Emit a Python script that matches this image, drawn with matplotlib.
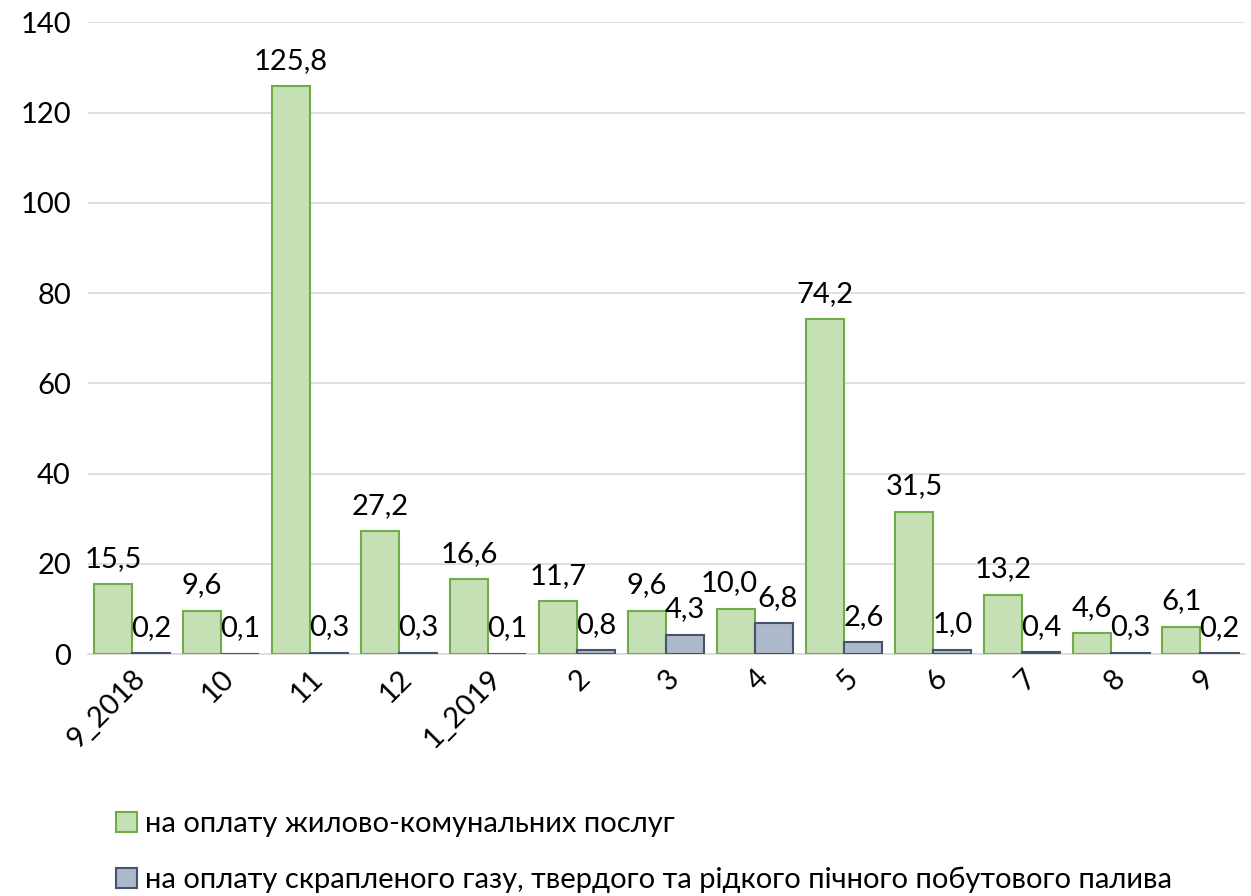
import numpy as np
import matplotlib.pyplot as plt

# Дані
months = ['9_2018', '10', '11', '12', '1_2019', '2', '3', '4', '5', '6', '7', '8', '9']
housing = [15.5, 9.6, 125.8, 27.2, 16.6, 11.7, 9.6, 10.0, 74.2, 31.5, 13.2, 4.6, 6.1]
fuel = [0.2, 0.1, 0.3, 0.3, 0.1, 0.8, 4.3, 6.8, 2.6, 1.0, 0.4, 0.3, 0.2]

label_housing = 'на оплату жилово-комунальних послуг'
label_fuel = 'на оплату скрапленого газу, твердого та рідкого пічного побутового палива'

plt.rcParams['font.family'] = ['Lato', 'DejaVu Sans']
FS = 21

fig = plt.figure(figsize=(12.51, 8.96), dpi=100)
ax = fig.add_axes([0.070, 0.270, 0.925, 0.705])

x = np.arange(len(months))
w = 0.43
b1 = ax.bar(x - w / 2, housing, w, color='#c5e0b4', edgecolor='#70ad47', linewidth=1.5,
            label=label_housing, zorder=3)
b2 = ax.bar(x + w / 2, fuel, w, color='#adb9ca', edgecolor='#44546a', linewidth=1.5,
            label=label_fuel, zorder=3)

fmt = lambda v: f'{v:.1f}'.replace('.', ',')
lab1 = ax.bar_label(b1, labels=[fmt(v) for v in housing], padding=9, fontsize=FS)
lab2 = ax.bar_label(b2, labels=[fmt(v) for v in fuel], padding=9, fontsize=FS)
# підписи для "4" стоять впритул, як у Excel – трохи розсунути
lab1[7].xyann = (-5, 9)
lab2[7].xyann = (2, 9)

ax.set_xlim(-0.5, len(months) - 0.5)
ax.set_ylim(0, 140)
ax.set_yticks(range(0, 141, 20))
ax.yaxis.grid(True, color='#d9d9d9', linewidth=1.2, zorder=0)
ax.set_axisbelow(True)
for s in ['left', 'right', 'top']:
    ax.spines[s].set_visible(False)
ax.spines['bottom'].set_color('#d9d9d9')
ax.spines['bottom'].set_linewidth(1.2)
ax.tick_params(axis='y', length=0, labelsize=FS, pad=12)
ax.tick_params(axis='x', length=0, labelsize=FS, pad=8)
ax.set_xticks(x)
ax.set_xticklabels(months, rotation=45, ha='right', rotation_mode='anchor')

fig.legend(handles=[b1, b2], loc='lower left', bbox_to_anchor=(0.072, -0.026),
           frameon=False, fontsize=FS, ncol=1, handlelength=0.7, handleheight=0.7,
           handletextpad=0.3, labelspacing=1.0)

fig.savefig('out.png', dpi=100)
